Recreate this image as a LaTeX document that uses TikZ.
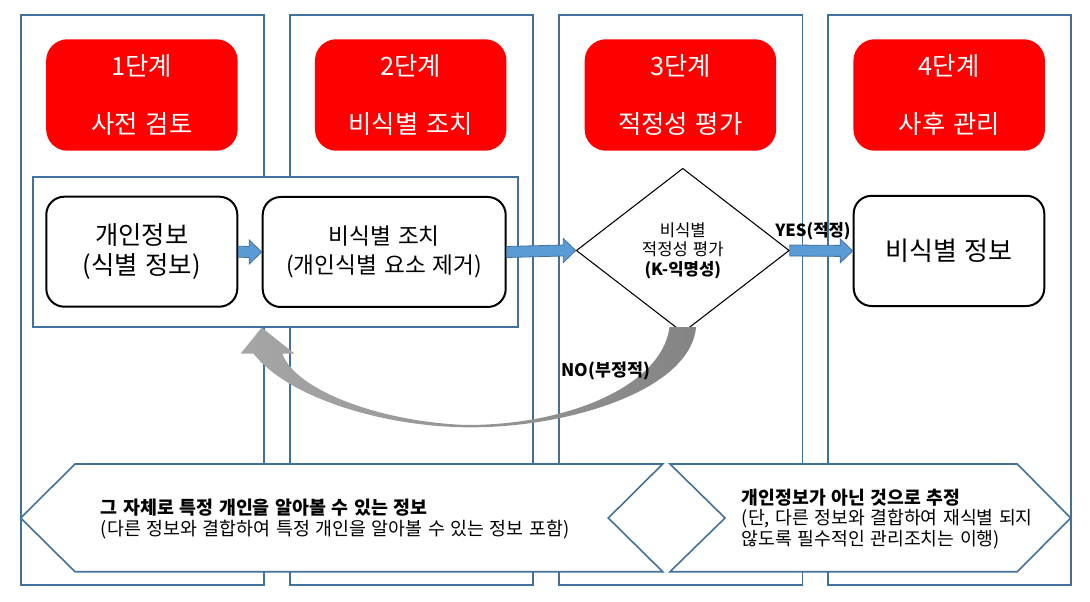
\documentclass[tikz,border=0pt]{standalone}
\usepackage{fontspec}
\setmainfont{Noto Sans CJK KR}
\usetikzlibrary{shapes.geometric,calc}
\definecolor{frameblue}{RGB}{65,113,156}
\definecolor{arrowblue}{RGB}{91,155,213}
\definecolor{stagered}{RGB}{255,0,0}
% 글자 크기 + 넓은 낱말 간격
\newcommand{\kfont}[2]{\fontsize{#1}{#2}\selectfont\spaceskip=0.3em plus 0.1em minus 0.05em\relax}
% 블록 화살표: #1 에서 #2 로
\newcommand{\blockarrow}[2]{%
  \draw[blockarr] ($(#1)+(0,-5.5)$) -- ($(#2)+(-12.5,-5.5)$) -- ($(#2)+(-12.5,-12)$)
    -- (#2) -- ($(#2)+(-12.5,12)$) -- ($(#2)+(-12.5,5.5)$) -- ($(#1)+(0,5.5)$) -- cycle;}
\begin{document}
\begin{tikzpicture}[x=0.75pt, y=-0.75pt,
  colframe/.style={draw=frameblue, line width=1.2pt},
  stagebox/.style={fill=stagered, rounded corners=16pt, minimum width=143.6pt, minimum height=83.6pt,
    text=white, align=center, font=\kfont{19}{43.7}},
  infobox/.style={draw=black, line width=1.5pt, rounded corners=13.5pt, fill=white,
    minimum height=82.5pt, align=center},
  blockarr/.style={fill=arrowblue, draw=frameblue, line width=0.6pt},
  lbl/.style={font=\kfont{12.5}{14}\bfseries},
  bottomtext/.style={anchor=west, align=left, inner sep=0pt}]
  \useasboundingbox (0,0) rectangle (1090,602);

  % 단계별 구역
  \draw[colframe] (20.7,15) rectangle (264,585);
  \draw[colframe] (289.7,15) rectangle (533,585);
  \draw[colframe] (558.7,15) rectangle (802.3,585);
  \draw[colframe] (827.7,15) rectangle (1071,585);

  % 단계 제목
  \node[stagebox] (stage1) at (141.9,95) {1단계\\사전 검토};
  \node[stagebox] (stage2) at (410.7,95) {2단계\\비식별 조치};
  \node[stagebox] (stage3) at (680.4,95) {3단계\\적정성 평가};
  \node[stagebox] (stage4) at (949.2,95) {4단계\\사후 관리};

  % 1-2단계 묶음
  \node[colframe, fill=white, minimum width=363.75pt, minimum height=112.3pt] (group) at (275.5,251.9) {};

  \node[infobox, minimum width=143.25pt, font=\kfont{19}{22.7}] (info) at (141.8,251.7) {개인정보\\(식별 정보)};
  \node[infobox, minimum width=182.25pt, font=\kfont{17}{21.75}] (deid) at (384.2,252) {비식별 조치\\(개인식별 요소 제거)};
  \node[infobox, minimum width=143pt, minimum height=82.7pt, font=\kfont{19.5}{22}] (result) at (949,250.9) {비식별 정보};

  % 적정성 평가
  \node[diamond, draw, line width=0.8pt, fill=white, minimum width=159.75pt, minimum height=123.3pt,
    inner sep=0pt, align=center, font=\kfont{12.5}{14.6}] (dia) at (682.8,250.5)
    {비식별\\적정성 평가\\\textbf{(K-익명성)}};

  % 화살표
  \blockarrow{info.east}{deid.west}
  \blockarrow{deid.east}{dia.west}
  \blockarrow{dia.east}{result.west}
  \node[lbl] (yes) at (813,231) {YES(적정)};

  % 부적정 시 되돌림
  \coordinate (nobeg) at ($(dia.south)+(0,-6)$);
  \coordinate (noend) at (deid.west |- group.south);
  \shade[left color=black!35, right color=black!48]
    ($(nobeg)+(13.3,0)$) .. controls (690,390) and (570,427) .. (473,427.3)
    .. controls (390,428) and (290,400) .. ($(noend)+(-8.3,26)$)
    -- ($(noend)+(-21,26)$) -- (noend) -- ($(noend)+(32.7,26)$) -- ($(noend)+(20.7,26)$)
    .. controls (295,390) and (380,422) .. (466.7,425)
    .. controls (570,425) and (662,385) .. ($(nobeg)+(-13.3,0)$) -- cycle;
  \node[lbl, font=\kfont{13}{15}\bfseries] (no) at (606,370.7) {NO(부정적)};

  % 하단 설명
  \draw[colframe, fill=white] (20.7,518) -- (75,464) -- (662.7,464) -- (608.3,518) -- (662.7,571.7) -- (75,571.7) -- cycle;
  \draw[colframe, fill=white] (670,464) -- (1017.3,464) -- (1070.7,518) -- (1017.3,571.7) -- (670,571.7) -- (725,518) -- cycle;
  \node[bottomtext, font=\kfont{13.8}{15.75}] (idinfo) at (100.7,518.8)
    {\textbf{그 자체로 특정 개인을 알아볼 수 있는 정보}\\(다른 정보와 결합하여 특정 개인을 알아볼 수 있는 정보 포함)};
  \node[bottomtext, font=\kfont{13.7}{15.4}] (nonid) at (741.7,519)
    {\textbf{개인정보가 아닌 것으로 추정}\\(단, 다른 정보와 결합하여 재식별 되지\\않도록 필수적인 관리조치는 이행)};
\end{tikzpicture}
\end{document}
